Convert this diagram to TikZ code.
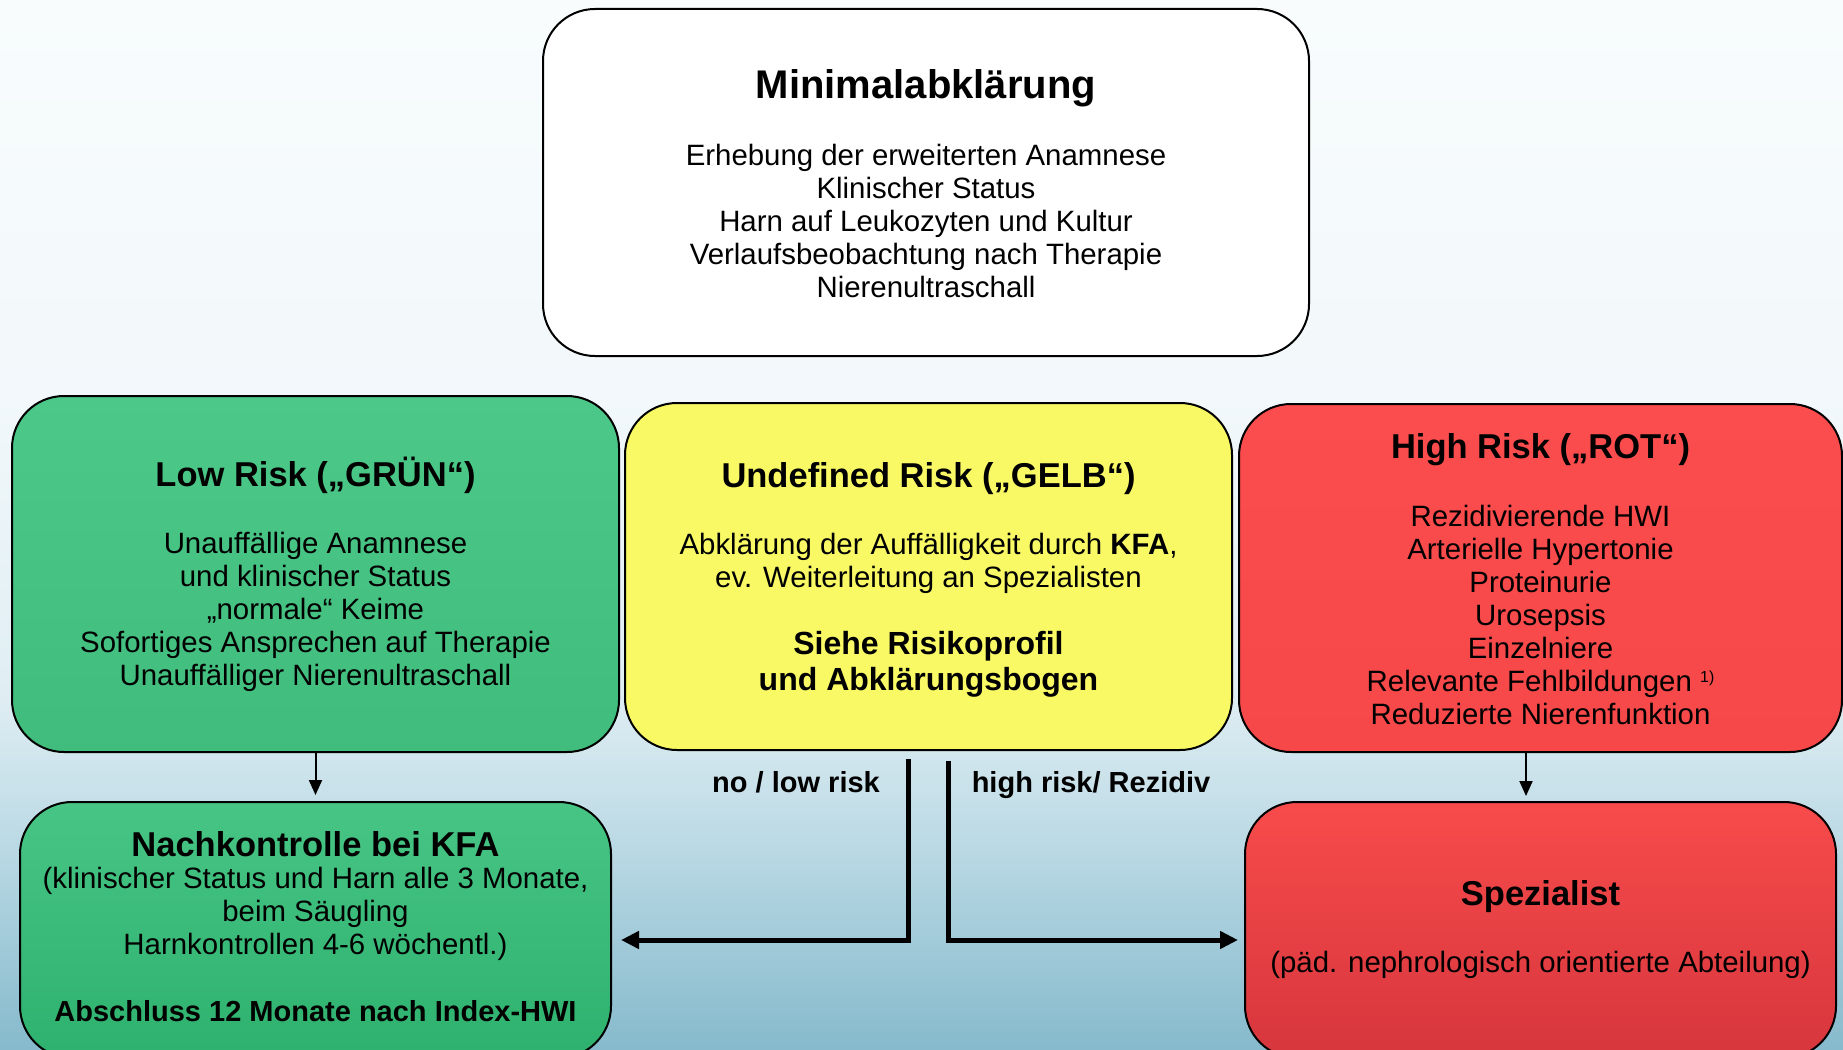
\documentclass[tikz,border=0pt]{standalone}
\usepackage{fontspec}
\setmainfont{Liberation Sans}
\usetikzlibrary{arrows.meta}
\definecolor{bgtop}{HTML}{F8FCFD}
\definecolor{bgup}{HTML}{F2F8FB}
\definecolor{bgmid}{HTML}{E0EEF3}
\definecolor{bglow}{HTML}{BCDAE5}
\definecolor{bgbot}{HTML}{86BACC}
\definecolor{gtop}{HTML}{4CC889}
\definecolor{gbot}{HTML}{40BC7C}
\definecolor{g2top}{HTML}{47C585}
\definecolor{g2bot}{HTML}{2EB16E}
\definecolor{yel}{HTML}{F9F966}
\definecolor{rtop}{HTML}{FB4D4D}
\definecolor{rbot}{HTML}{F64848}
\definecolor{r2top}{HTML}{F84B4B}
\definecolor{r2bot}{HTML}{D6363D}
\pgfdeclareverticalshading{bgshade}{100bp}{color(0bp)=(bgbot); color(25bp)=(bgbot); color(35bp)=(bglow); color(42bp)=(bgmid); color(56bp)=(bgup); color(75bp)=(bgtop); color(100bp)=(bgtop)}
\begin{document}
\begin{tikzpicture}[x=1pt,y=-1pt,
  box/.style={draw=black, line width=2pt, rounded corners=52pt, inner sep=0pt},
  body/.style={align=center, inner sep=0pt, font=\fontsize{29.4}{33}\selectfont},
  ttl/.style={align=center, inner sep=0pt, font=\fontsize{34.5}{38}\selectfont\bfseries},
  lbl/.style={inner sep=0pt, font=\fontsize{29}{33}\selectfont\bfseries},
  thinarrow/.style={line width=2pt, -{Triangle[width=13pt,length=15pt]}},
  thickarrow/.style={line width=5pt, -{Triangle[width=17pt,length=18pt]}}]
\useasboundingbox (0,0) rectangle (1843,1049);
\clip (0,0) rectangle (1843,1049);
\fill[shading=bgshade] (0,0) rectangle (1843,1049);

% boxes
\node[box, fill=white, minimum width=766pt, minimum height=347pt] (minimal) at (926,182.5) {};
\node[box, top color=gtop, bottom color=gbot, minimum width=607pt, minimum height=356pt] (green) at (315.5,574) {};
\node[box, fill=yel, minimum width=607pt, minimum height=347pt] (yellow) at (928.5,576.5) {};
\node[box, top color=rtop, bottom color=rbot, minimum width=603pt, minimum height=348pt] (red) at (1540.5,578) {};
\node[box, top color=g2top, bottom color=g2bot, minimum width=591pt, minimum height=256pt] (ngreen) at (315.5,930) {};
\node[box, top color=r2top, bottom color=r2bot, minimum width=591pt, minimum height=256pt] (nred) at (1540.5,930) {};

% texts: Minimalabklaerung
\node[ttl, font=\fontsize{40}{44}\selectfont\bfseries] (mtitle) at (926,88.5) {Minimalabklärung};
\node[body] (mbody) at (926,221) {Erhebung der erweiterten Anamnese\\Klinischer Status\\Harn auf Leukozyten und Kultur\\Verlaufsbeobachtung nach Therapie\\Nierenultraschall};

% green
\node[ttl] (gtitle) at (315.5,475.5) {Low Risk („GRÜN“)};
\node[body] (gbody) at (315.5,611.5) {Unauffällige Anamnese\\und klinischer Status\\„normale“ Keime\\Sofortiges Ansprechen auf Therapie\\Unauffälliger Nierenultraschall};

% yellow
\node[ttl] (ytitle) at (928.5,478.5) {Undefined Risk („GELB“)};
\node[body] (ybody) at (928.5,563) {Abklärung der Auffälligkeit durch \textbf{KFA},\\ev. Weiterleitung an Spezialisten};
\node[ttl, font=\fontsize{32}{35.5}\selectfont\bfseries] (ybold) at (928.5,664.5) {Siehe Risikoprofil\\und Abklärungsbogen};

% red
\node[ttl] (rtitle) at (1540.5,450) {High Risk („ROT“)};
\node[body] (rbody) at (1540.5,614.5) {Rezidivierende HWI\\Arterielle Hypertonie\\Proteinurie\\Urosepsis\\Einzelniere\\Relevante Fehlbildungen \raisebox{9pt}{\fontsize{16}{16}\selectfont 1)}\\Reduzierte Nierenfunktion};

% bottom green
\node[ttl] (ngtitle) at (315.5,844) {Nachkontrolle bei KFA};
\node[body] (ngbody) at (315.5,914) {(klinischer Status und Harn alle 3 Monate,\\beim Säugling\\Harnkontrollen 4-6 wöchentl.)};
\node[lbl] (ngbold) at (315.5,1011) {Abschluss 12 Monate nach Index-HWI};

% bottom red
\node[ttl] (nrtitle) at (1540.5,896.5) {Spezialist};
\node[body] (nrbody) at (1540.5,964.5) {(päd. nephrologisch orientierte Abteilung)};

% connector labels
\node[lbl] (nolow) at (796,782) {no / low risk};
\node[lbl] (hirisk) at (1091,785) {high risk/ Rezidiv};

% connectors
\draw[thinarrow, shorten >=6pt] (green.south) -- (ngreen.north);
\draw[thinarrow, shorten >=5pt] ([xshift=-14.5pt]red.south) -- ([xshift=-14.5pt]nred.north);
\coordinate (nlTop) at (908,759);
\coordinate (nlEnd) at (621,940);
\coordinate (hrTop) at (948,761);
\coordinate (hrEnd) at (1238,940);
\draw[thickarrow] (nlTop) |- (nlEnd);
\draw[thickarrow] (hrTop) |- (hrEnd);
\end{tikzpicture}
\end{document}
